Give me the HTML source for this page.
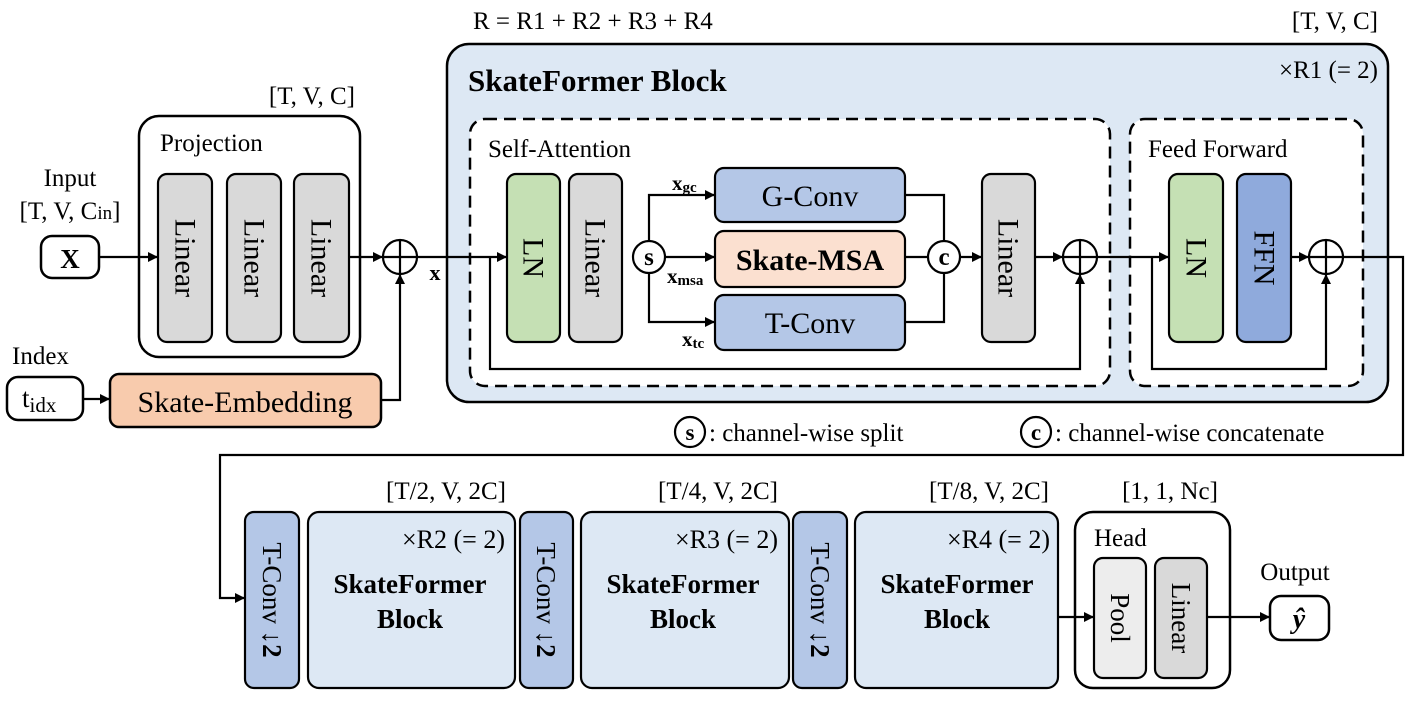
<!DOCTYPE html>
<html><head><meta charset="utf-8"><style>
html,body{margin:0;padding:0;background:#fff;}
svg, svg text{font-family:"Liberation Serif","Times New Roman","DejaVu Serif",serif;}
</style></head><body>
<svg width="1411" height="701" viewBox="0 0 1411 701" xmlns="http://www.w3.org/2000/svg" font-family="Liberation Serif, Times New Roman, serif">
<defs>
<marker id="a" markerWidth="10" markerHeight="10" refX="9" refY="5" orient="auto" markerUnits="userSpaceOnUse">
<path d="M0,0 L10,5 L0,10 z" fill="#000"/></marker>
</defs>
<text x="473" y="29" font-size="25">R = R1 + R2 + R3 + R4</text>
<text x="1378" y="29" font-size="25" text-anchor="end">[T, V, C]</text>

<rect x="447" y="44" width="941" height="358" rx="22" fill="#dde8f4" stroke="#000" stroke-width="2.5"/>
<text x="468" y="91" font-size="31" font-weight="bold">SkateFormer Block</text>
<text x="1378" y="78" font-size="25" text-anchor="end">×R1 (= 2)</text>

<rect x="470" y="119" width="640" height="267" rx="15" fill="#fff" stroke="#000" stroke-width="2.5" stroke-dasharray="12,7"/>
<text x="488" y="157" font-size="25">Self-Attention</text>
<rect x="1130" y="119" width="233" height="267" rx="15" fill="#fff" stroke="#000" stroke-width="2.5" stroke-dasharray="12,7"/>
<text x="1148" y="157" font-size="25">Feed Forward</text>

<g stroke="#000" stroke-width="2.2">
<rect x="507" y="174" width="53" height="168" rx="9" fill="#c5e0b4"/>
<rect x="569" y="174" width="53" height="168" rx="9" fill="#d9d9d9"/>
<rect x="982" y="174" width="53" height="168" rx="9" fill="#d9d9d9"/>
<rect x="715" y="168" width="190" height="54" rx="9" fill="#b4c7e7"/>
<rect x="715" y="231" width="190" height="56" rx="9" fill="#fbe0d0"/>
<rect x="715" y="295" width="190" height="55" rx="9" fill="#b4c7e7"/>
<rect x="1169" y="174" width="54" height="168" rx="9" fill="#c5e0b4"/>
<rect x="1237" y="174" width="54" height="168" rx="9" fill="#8faadc"/>
</g>
<g font-size="30">
<text transform="translate(533,258) rotate(90)" text-anchor="middle" dominant-baseline="central">LN</text>
<text transform="translate(595,258) rotate(90)" text-anchor="middle" dominant-baseline="central">Linear</text>
<text transform="translate(1008,258) rotate(90)" text-anchor="middle" dominant-baseline="central">Linear</text>
<text transform="translate(1196,258) rotate(90)" text-anchor="middle" dominant-baseline="central">LN</text>
<text transform="translate(1264,258) rotate(90)" text-anchor="middle" dominant-baseline="central">FFN</text>
<text x="810" y="206" text-anchor="middle">G-Conv</text>
<text x="810" y="270" text-anchor="middle" font-weight="bold">Skate-MSA</text>
<text x="810" y="333" text-anchor="middle">T-Conv</text>
</g>
<g font-size="21" font-weight="bold">
<text x="672" y="190">x<tspan font-size="15" dy="2">gc</tspan></text>
<text x="667" y="283">x<tspan font-size="15" dy="2">msa</tspan></text>
<text x="682" y="346">x<tspan font-size="15" dy="2">tc</tspan></text>
</g>

<g stroke="#000" stroke-width="2.2" fill="none">
<line x1="417" y1="257" x2="506" y2="257" marker-end="url(#a)"/>
<polyline points="490,257 490,369 1080,369 1080,275" marker-end="url(#a)"/>
<line x1="665" y1="257" x2="714" y2="257" marker-end="url(#a)"/>
<polyline points="649,241 649,195 714,195" marker-end="url(#a)"/>
<polyline points="649,273 649,322 714,322" marker-end="url(#a)"/>
<polyline points="905,195 944,195 944,241"/>
<polyline points="905,322 944,322 944,273"/>
<line x1="905" y1="257" x2="928" y2="257"/>
<line x1="960" y1="257" x2="981" y2="257" marker-end="url(#a)"/>
<line x1="1035" y1="257" x2="1062" y2="257" marker-end="url(#a)"/>
<line x1="1097" y1="257" x2="1168" y2="257" marker-end="url(#a)"/>
<polyline points="1152,257 1152,369 1326,369 1326,275" marker-end="url(#a)"/>
<line x1="1291" y1="257" x2="1308" y2="257" marker-end="url(#a)"/>
<polyline points="1343,257 1403,257 1403,455 220,455 220,598 244,598" marker-end="url(#a)"/>
</g>
<g stroke="#000" stroke-width="2.2" fill="#fff">
<circle cx="649" cy="257" r="16"/>
<circle cx="944" cy="257" r="16"/>
<circle cx="1080" cy="257" r="17"/>
<circle cx="1326" cy="257" r="17"/>
<circle cx="400" cy="257" r="17"/>
<path d="M1063,257 H1097 M1080,240 V274 M1309,257 H1343 M1326,240 V274 M383,257 H417 M400,240 V274" fill="none"/>
</g>
<g font-size="25" font-weight="bold" text-anchor="middle">
<text x="649" y="265">s</text>
<text x="944" y="265">c</text>
</g>

<text x="70" y="186" font-size="25" text-anchor="middle">Input</text>
<text x="70" y="219" font-size="25" text-anchor="middle">[T, V, C<tspan font-size="19">in</tspan>]</text>
<rect x="41" y="236" width="58" height="42" rx="11" fill="#fff" stroke="#000" stroke-width="2.5"/>
<text x="70" y="268" font-size="27" font-weight="bold" text-anchor="middle">X</text>
<text x="355" y="104" font-size="25" text-anchor="end">[T, V, C]</text>
<rect x="139" y="116" width="221" height="241" rx="20" fill="#fff" stroke="#000" stroke-width="2.5"/>
<text x="160" y="151" font-size="25">Projection</text>
<g stroke="#000" stroke-width="2.2" fill="#d9d9d9">
<rect x="158" y="174" width="54" height="168" rx="9"/>
<rect x="227" y="174" width="54" height="168" rx="9"/>
<rect x="294" y="174" width="55" height="168" rx="9"/>
</g>
<g font-size="30">
<text transform="translate(185,258) rotate(90)" text-anchor="middle" dominant-baseline="central">Linear</text>
<text transform="translate(254,258) rotate(90)" text-anchor="middle" dominant-baseline="central">Linear</text>
<text transform="translate(321,258) rotate(90)" text-anchor="middle" dominant-baseline="central">Linear</text>
</g>
<text x="435" y="280" font-size="22" font-weight="bold" text-anchor="middle">x</text>
<text x="12" y="364" font-size="25">Index</text>
<rect x="7" y="377" width="76" height="43" rx="11" fill="#fff" stroke="#000" stroke-width="2.5"/>
<text x="22" y="407" font-size="27">t<tspan font-size="21" dy="5">idx</tspan></text>
<rect x="110" y="374" width="271" height="53" rx="9" fill="#f8cbad" stroke="#000" stroke-width="2.5"/>
<text x="245" y="412" font-size="30" text-anchor="middle">Skate-Embedding</text>
<g stroke="#000" stroke-width="2.2" fill="none">
<line x1="99" y1="257" x2="157" y2="257" marker-end="url(#a)"/>
<line x1="349" y1="257" x2="382" y2="257" marker-end="url(#a)"/>
<line x1="83" y1="399" x2="109" y2="399" marker-end="url(#a)"/>
<polyline points="381,400 400,400 400,275" marker-end="url(#a)"/>
</g>

<circle cx="690" cy="432" r="15" fill="#fff" stroke="#000" stroke-width="2.2"/>
<text x="690" y="440" font-size="23" font-weight="bold" text-anchor="middle">s</text>
<text x="709" y="441" font-size="25">: channel-wise split</text>
<circle cx="1036" cy="432" r="15" fill="#fff" stroke="#000" stroke-width="2.2"/>
<text x="1036" y="440" font-size="23" font-weight="bold" text-anchor="middle">c</text>
<text x="1055" y="441" font-size="25">: channel-wise concatenate</text>

<g font-size="25" text-anchor="middle">
<text x="446" y="499">[T/2, V, 2C]</text>
<text x="718" y="499">[T/4, V, 2C]</text>
<text x="989" y="499">[T/8, V, 2C]</text>
<text x="1170" y="499">[1, 1, Nc]</text>
<text x="1295" y="580">Output</text>
</g>
<g stroke="#000" stroke-width="2.2">
<rect x="245" y="512" width="54" height="176" rx="9" fill="#b4c7e7"/>
<rect x="308" y="512" width="207" height="176" rx="11" fill="#dde8f4"/>
<rect x="520" y="512" width="53" height="176" rx="9" fill="#b4c7e7"/>
<rect x="581" y="512" width="208" height="176" rx="11" fill="#dde8f4"/>
<rect x="793" y="512" width="54" height="176" rx="9" fill="#b4c7e7"/>
<rect x="855" y="512" width="203" height="176" rx="11" fill="#dde8f4"/>
<rect x="1075" y="512" width="155" height="176" rx="18" fill="#fff" stroke-width="2.5"/>
<rect x="1094" y="558" width="52" height="120" rx="9" fill="#ededed"/>
<rect x="1155" y="558" width="52" height="120" rx="9" fill="#d9d9d9"/>
<rect x="1270" y="596" width="59" height="44" rx="11" fill="#fff" stroke-width="2.5"/>
</g>
<g font-size="27">
<text transform="translate(272,600) rotate(90)" text-anchor="middle" dominant-baseline="central">T-Conv <tspan font-weight="bold">↓2</tspan></text>
<text transform="translate(546,600) rotate(90)" text-anchor="middle" dominant-baseline="central">T-Conv <tspan font-weight="bold">↓2</tspan></text>
<text transform="translate(820,600) rotate(90)" text-anchor="middle" dominant-baseline="central">T-Conv <tspan font-weight="bold">↓2</tspan></text>
<text transform="translate(1120,618) rotate(90)" text-anchor="middle" dominant-baseline="central">Pool</text>
<text transform="translate(1181,618) rotate(90)" text-anchor="middle" dominant-baseline="central">Linear</text>
</g>
<g font-size="26" text-anchor="end">
<text x="505" y="548">×R2 (= 2)</text>
<text x="778" y="548">×R3 (= 2)</text>
<text x="1050" y="548">×R4 (= 2)</text>
</g>
<g font-size="27" font-weight="bold" text-anchor="middle">
<text x="410" y="593">SkateFormer</text><text x="410" y="628">Block</text>
<text x="683" y="593">SkateFormer</text><text x="683" y="628">Block</text>
<text x="957" y="593">SkateFormer</text><text x="957" y="628">Block</text>
</g>
<text x="1094" y="546" font-size="25">Head</text>
<text x="1299" y="628" font-size="28" font-weight="bold" font-style="italic" text-anchor="middle">ŷ</text>
<g stroke="#000" stroke-width="2.2" fill="none">
<line x1="1058" y1="617" x2="1093" y2="617" marker-end="url(#a)"/>
<line x1="1207" y1="617" x2="1269" y2="617" marker-end="url(#a)"/>
</g>
</svg>
</body></html>
